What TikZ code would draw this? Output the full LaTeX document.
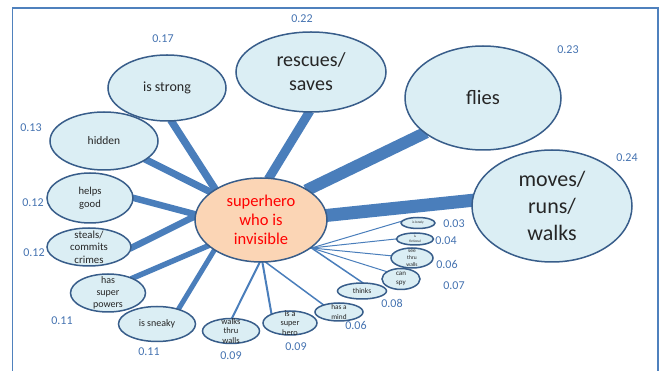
\documentclass[tikz,border=0pt]{standalone}
\usepackage{fontspec}
\setmainfont{Carlito}
\usetikzlibrary{shapes.geometric,backgrounds}
\definecolor{nodefill}{RGB}{219,238,244}
\definecolor{nodeline}{RGB}{56,93,138}
\definecolor{linkc}{RGB}{74,126,187}
\definecolor{numc}{RGB}{68,114,176}
\definecolor{ctrfill}{RGB}{251,213,181}
\definecolor{txt}{RGB}{38,38,38}
\definecolor{framec}{RGB}{79,129,189}
\newcommand\setfs[2]{\fontsize{#1}{#2}\selectfont}
\begin{document}
\begin{tikzpicture}[x=1pt,y=-1pt,
  bub/.style={ellipse, draw=nodeline, line width=1.5pt, fill=nodefill, inner sep=0pt},
  txtl/.style={text=txt, align=center, inner sep=0pt},
  num/.style={text=numc, font=\setfs{12}{14}, inner sep=0pt},
  link/.style={draw=linkc, shorten <=-2pt, shorten >=-2pt}]
\useasboundingbox (0,0) rectangle (662,371);
\draw[framec, line width=1.5pt] (12.5,371) -- (12.5,8) -- (658,8) -- (658,371);

% centre
\node[bub, fill=ctrfill, minimum width=132pt, minimum height=84pt,
  label={[txtl, text=red, font=\setfs{16.5}{19}]center:superhero\\who is\\invisible}] (c) at (261,220) {};

% big ideas
\node[bub, minimum width=118pt, minimum height=66pt,
  label={[txtl, font=\setfs{14}{16}]center:is strong}] (strong) at (167,88) {};
\node[bub, minimum width=150pt, minimum height=80pt,
  label={[txtl, font=\setfs{20}{24}]center:rescues/\\saves}] (rescues) at (311,72) {};
\node[bub, minimum width=156pt, minimum height=104pt,
  label={[txtl, font=\setfs{20.5}{24}]center:flies}] (flies) at (483,98) {};
\node[bub, minimum width=160pt, minimum height=112pt,
  label={[txtl, font=\setfs{22}{27}]center:moves/\\runs/\\walks}] (moves) at (552,206) {};
\node[bub, minimum width=108pt, minimum height=58pt,
  label={[txtl, font=\setfs{11.5}{14}]center:hidden}] (hidden) at (104,141) {};
\node[bub, minimum width=86pt, minimum height=50pt,
  label={[txtl, font=\setfs{10.6}{13}]center:helps\\good}] (helps) at (90,198) {};
\node[bub, minimum width=84pt, minimum height=38pt,
  label={[txtl, font=\setfs{10.8}{12.5}]center:steals/\\commits\\crimes}] (steals) at (89,247) {};
\node[bub, minimum width=75pt, minimum height=38pt,
  label={[txtl, font=\setfs{10}{12}]center:has\\super\\powers}] (hsp) at (108,293) {};
\node[bub, minimum width=77pt, minimum height=35pt,
  label={[txtl, font=\setfs{10}{12}]center:is sneaky}] (sneaky) at (157,324) {};
\node[bub, minimum width=57pt, minimum height=25pt,
  label={[txtl, font=\setfs{8.5}{9.6}]center:walks\\thru\\walls}] (walks) at (231,331) {};
\node[bub, minimum width=54pt, minimum height=24pt,
  label={[txtl, font=\setfs{8.3}{9.3}]center:is a\\super\\hero}] (superhero) at (290,323) {};
\node[bub, minimum width=48pt, minimum height=18pt,
  label={[txtl, font=\setfs{7.3}{9.5}]center:has a\\mind}] (mind) at (339,312) {};
\node[bub, minimum width=49pt, minimum height=16pt,
  label={[txtl, font=\setfs{7.5}{9}]center:thinks}] (thinks) at (362,291) {};
\node[bub, minimum width=38pt, minimum height=21pt,
  label={[txtl, font=\setfs{7}{8.7}]center:can\\spy}] (spy) at (401,279) {};
\node[bub, minimum width=42pt, minimum height=20pt,
  label={[txtl, font=\setfs{5.5}{7}]center:see\\thru\\walls}] (seethru) at (412,258) {};
\node[bub, minimum width=37pt, minimum height=12pt,
  label={[txtl, font=\setfs{3.5}{4.5}]center:is\\fictional}] (fict) at (415,239) {};
\node[bub, minimum width=34pt, minimum height=11pt,
  label={[txtl, font=\setfs{3.5}{4.5}]center:is lonely}] (lonely) at (418,223) {};

% numbers
\node[num] (n1) at (163,39) {0.17};
\node[num] (n2) at (302,19) {0.22};
\node[num] (n3) at (568,50) {0.23};
\node[num] (n4) at (627,158) {0.24};
\node[num] (n5) at (31,128) {0.13};
\node[num] (n6) at (33,203) {0.12};
\node[num] (n7) at (34,253) {0.12};
\node[num] (n8) at (62,321) {0.11};
\node[num] (n9) at (149,352) {0.11};
\node[num] (n10) at (231,356) {0.09};
\node[num] (n11) at (296,347) {0.09};
\node[num] (n12) at (356,325) {0.06};
\node[num] (n13) at (392,303) {0.08};
\node[num] (n14) at (454,286) {0.07};
\node[num] (n15) at (447,264) {0.06};
\node[num] (n16) at (446,241) {0.04};
\node[num] (n17) at (454,224) {0.03};

\begin{pgfonlayer}{background}
\draw[link, line width=7.5pt] (c.146) -- (strong.-82);
\draw[link, line width=9pt] (c.79) -- (rescues.-93);
\draw[link, line width=12pt] (c.33) -- (flies.-149);
\draw[link, line width=13pt] (c.4) -- (moves.176);
\draw[link, line width=7pt] (c.151) -- (hidden.-24);
\draw[link, line width=6.5pt] (c.175) -- (helps.0);
\draw[link, line width=6.5pt] (c.177) -- (steals.-1);
\draw[link, line width=5.5pt] (c.206) -- (hsp.31);
\draw[link, line width=5pt] (c.213) -- (sneaky.35);
\draw[link, line width=2pt] (c.-92) -- (walks.85);
\draw[link, line width=2pt] (c.-88) -- (superhero.153);
\draw[link, line width=1.5pt] (c.-83) -- (mind.155);
\draw[link, line width=1.5pt] (c.-29) -- (thinks.90);
\draw[link, line width=1pt] (c.-29) -- (spy.153);
\draw[link, line width=1pt] (c.-29) -- (seethru.174);
\draw[link, line width=1pt] (c.-29) -- (fict.180);
\draw[link, line width=1pt] (c.-29) -- (lonely.175);
\end{pgfonlayer}
\end{tikzpicture}
\end{document}
